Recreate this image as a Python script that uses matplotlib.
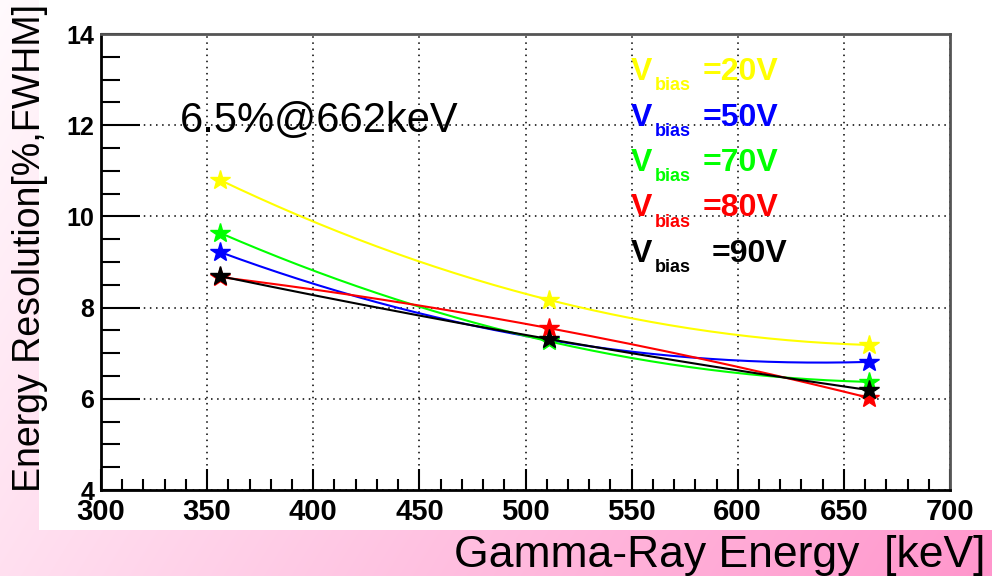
import numpy as np
import matplotlib
matplotlib.use("Agg")
import matplotlib.pyplot as plt
from matplotlib.patches import Rectangle
from matplotlib.ticker import MultipleLocator

# gamma lines: Ba-133, Na-22, Cs-137
energy = [356, 511, 662]

res_20v = [10.80, 8.17, 7.18]
res_50v = [9.22, 7.29, 6.81]
res_70v = [9.64, 7.26, 6.37]
res_80v = [8.67, 7.55, 6.02]
res_90v = [8.69, 7.31, 6.19]

bias_labels = ["=20V", "=50V", "=70V", "=80V", "=90V"]
colors = ["#ffff00", "#0000ff", "#00ff00", "#ff0000", "#000000"]
series = [res_20v, res_50v, res_70v, res_80v, res_90v]

W, H = 992, 576
plt.rcParams['font.family'] = ['Liberation Sans', 'DejaVu Sans']
fig = plt.figure(figsize=(W / 100, H / 100), dpi=100)

# pink gradient background with a white panel
bg = fig.add_axes([0, 0, 1, 1], zorder=0)
yy, xx = np.mgrid[0:H, 0:W]
t = np.clip(0.05 + 0.25 * yy / H + 0.70 * xx / W, 0, 1)
pink = np.array([255, 150, 204]) / 255.0
img = (1 - t)[..., None] * np.ones(3) + t[..., None] * pink
bg.imshow(img, extent=[0, 1, 0, 1], aspect='auto', origin='upper')
bg.add_patch(Rectangle((39 / W, 1 - 530 / H), 1, 1, color='white', lw=0))
bg.set_xlim(0, 1)
bg.set_ylim(0, 1)
bg.axis('off')

ax = fig.add_axes([101 / W, 1 - 490 / H, 849 / W, 456 / H], zorder=1)
ax.set_facecolor('white')

xs = np.linspace(min(energy), max(energy), 200)
for vals, c in zip(series, colors):
    p = np.polyfit(energy, vals, 2)
    ax.plot(xs, np.polyval(p, xs), color=c, lw=1.5)
    ax.plot(energy, vals, ls='none', marker='*', ms=15, color=c, mec=c)

ax.set_xlim(300, 700)
ax.set_ylim(4, 14)
ax.xaxis.set_major_locator(MultipleLocator(50))
ax.xaxis.set_minor_locator(MultipleLocator(10))
ax.yaxis.set_major_locator(MultipleLocator(2))
ax.yaxis.set_minor_locator(MultipleLocator(0.5))
ax.grid(which='major', color='black', ls=(0, (1, 3)), lw=1.1)
ax.tick_params(which='major', direction='in', length=15, width=1.5, color='black')
ax.tick_params(axis='y', which='major', length=28)
ax.tick_params(which='minor', direction='in', length=8, width=1.5, color='black')
ax.tick_params(axis='y', which='minor', length=14)
ax.tick_params(axis='x', labelsize=21, pad=6)
ax.tick_params(axis='y', labelsize=18, pad=5)
for lab in ax.get_xticklabels() + ax.get_yticklabels():
    lab.set_fontweight('bold')
for s in ['left', 'bottom']:
    ax.spines[s].set_linewidth(2)
    ax.spines[s].set_color('black')
for s in ['top', 'right']:
    ax.spines[s].set_linewidth(2)
    ax.spines[s].set_color('#555555')

fig.text(30 / W, 1 - 248 / H, "Energy Resolution[%,FWHM]", rotation=90,
         ha='center', va='center', fontsize=27)
fig.text(985 / W, 1 - 567 / H, "Gamma-Ray Energy  [keV]", ha='right',
         va='baseline', fontsize=32)
fig.text(180 / W, 1 - 132 / H, "6.5%@662keV", ha='left', va='baseline',
         fontsize=30)

# bias voltage labels
for i, (lab, c) in enumerate(zip(bias_labels, colors)):
    base = 80 + i * 45.5
    fig.text(631 / W, 1 - base / H, "V", color=c, fontsize=23,
             fontweight='bold', va='baseline')
    fig.text(655 / W, 1 - (base + 10) / H, "bias", color=c, fontsize=13,
             fontweight='bold', va='baseline')
    xo = 712 if i == 4 else 703
    fig.text(xo / W, 1 - base / H, lab, color=c, fontsize=23,
             fontweight='bold', va='baseline')

fig.savefig("out.png", dpi=100)
